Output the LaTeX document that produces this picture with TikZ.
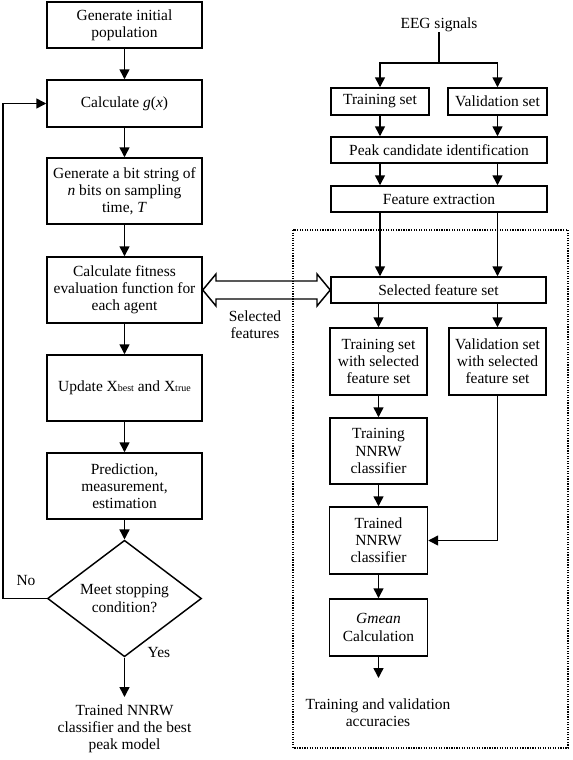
\documentclass[tikz,border=0pt]{standalone}
\usepackage{fontspec}
\setmainfont{Liberation Serif}
\usetikzlibrary{arrows.meta,shapes.geometric}
\begin{document}
\begin{tikzpicture}[x=0.75pt,y=-0.75pt,
  every node/.style={font=\fontsize{11.6}{12.9}\selectfont, align=center},
  bx/.style 2 args={draw, line width=1.1pt, inner sep=0pt, minimum width=#1*0.75pt, minimum height=#2*0.75pt},
  lbl/.style={inner sep=0pt},
  arr/.style={line width=1.1pt, -{Triangle[length=7.5pt,width=7.5pt]}},
  ln/.style={line width=1.1pt}]
\useasboundingbox (0,0) rectangle (572,760);
% left column
\node[bx={155}{46}] (b1) at (124.5,25) {Generate initial\\population};
\node[bx={155}{47}] (b2) at (124.5,103.5) {Calculate \textit{g}(\textit{x})};
\node[bx={155}{66}] (b3) at (124.5,191) {Generate a bit string of\\\textit{n} bits on sampling\\time, \textit{T}};
\node[bx={155}{66}] (b4) at (124.5,290) {Calculate fitness\\evaluation function for\\each agent};
\node[bx={155}{66}] (b5) at (124.5,388) {Update X{\fontsize{7.5}{8}\selectfont best} and X{\fontsize{7.5}{8}\selectfont true}};
\node[bx={155}{66}] (b6) at (124.5,486) {Prediction,\\measurement,\\estimation};
\node[draw, line width=1.1pt, diamond, inner sep=0pt, minimum width=154*0.75pt, minimum height=107*0.75pt] (d) at (124.5,598.5) {Meet stopping\\condition?};
\coordinate (dend) at (124.5,697);
\node[lbl] (res) at (124.5,729) {Trained NNRW\\classifier and the best\\peak model};
\node[lbl] (yes) at (159,653) {Yes};
\node[lbl] (no) at (26,581) {No};
\coordinate (loop) at (3,598.5);
\draw[arr] (b1) -- (b2);
\draw[arr] (b2) -- (b3);
\draw[arr] (b3) -- (b4);
\draw[arr] (b4) -- (b5);
\draw[arr] (b5) -- (b6);
\draw[arr] (b6) -- (d);
\draw[arr] (d.south) -- (dend);
\draw[arr] (d.west) -- (loop) |- (b2.west);
% right column
\node[lbl] (eeg) at (439,25) {EEG signals};
\coordinate (split) at (439,63);
\node[bx={98}{27}] (ts) at (380,101.5) {Training set};
\node[bx={99}{27}] (vs) at (497.5,101.5) {Validation set};
\node[bx={216}{26}] (peak) at (439,150) {Peak candidate identification};
\node[bx={216}{26}] (fe) at (439,199) {Feature extraction};
\node[bx={215}{26}] (sfs) at (438.5,290) {Selected feature set};
\node[bx={97}{67}] (tsw) at (378.5,361.5) {Training set\\with selected\\feature set};
\node[bx={97}{67}] (vsw) at (497.5,361.5) {Validation set\\with selected\\feature set};
\node[bx={97}{66}] (tnn) at (378.5,451) {Training\\NNRW\\classifier};
\node[bx={98}{67}] (trn) at (378.5,540.5) {Trained\\NNRW\\classifier};
\node[bx={98}{57}] (gm) at (378.5,627.5) {\textit{Gmean}\\Calculation};
\coordinate (gend) at (378.5,678);
\node[lbl] (acc) at (378,713) {Training and validation\\accuracies};
\node[lbl] (sf) at (255,325) {Selected\\features};
\draw[ln] (eeg.south) -- (split);
\draw[arr] (split) -| (ts.north);
\draw[arr] (split) -| (vs.north);
\draw[arr] (ts.south) -- (ts.south |- peak.north);
\draw[arr] (vs.south) -- (vs.south |- peak.north);
\draw[arr] (peak.south -| ts) -- (fe.north -| ts);
\draw[arr] (peak.south -| vs) -- (fe.north -| vs);
\draw[arr] (fe.south -| ts) -- (sfs.north -| ts);
\draw[arr] (fe.south -| vs) -- (sfs.north -| vs);
\draw[arr] (sfs.south -| tsw) -- (tsw.north);
\draw[arr] (sfs.south -| vsw) -- (vsw.north);
\draw[arr] (tsw) -- (tnn);
\draw[arr] (tnn) -- (trn);
\draw[arr] (trn) -- (gm);
\draw[arr] (gm.south) -- (gend);
\draw[arr] (vsw.south) |- (trn.east);
% dotted frame
\draw[line width=0.9pt, densely dotted] (293,230) rectangle (568,748);
% hollow double arrow
\draw[line width=1.1pt, line join=miter] (b4.east) -- (216,274) -- (216,281) -- (317,281) -- (317,274) -- (sfs.west) -- (317,306) -- (317,299) -- (216,299) -- (216,306) -- cycle;
\end{tikzpicture}
\end{document}
